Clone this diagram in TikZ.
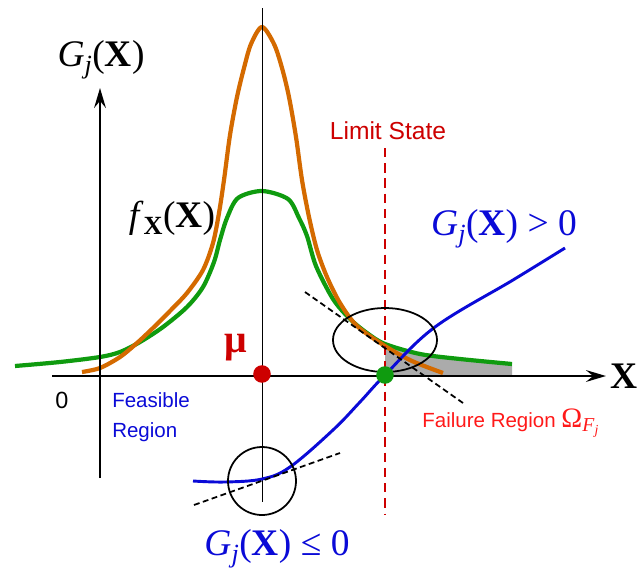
\documentclass[tikz,border=0pt]{standalone}
\usepackage{fontspec}
\setmainfont{Liberation Serif}
\setsansfont{Liberation Sans}
\usetikzlibrary{arrows.meta,positioning}

\definecolor{pdforange}{RGB}{212,106,0}
\definecolor{pdfgreen}{RGB}{15,155,15}
\definecolor{gblue}{RGB}{10,10,215}
\definecolor{limred}{RGB}{205,0,0}
\definecolor{failred}{RGB}{255,25,25}

% limit state function and density, set in the text font
\newcommand\gjx{\textit{G}\textsubscript{\textit{j}}(\textbf{X})}
\newcommand\fxx{\textit{f}\textsubscript{\textbf{X}}(\textbf{X})}

\begin{document}
\begin{tikzpicture}[
    x=0.03cm, y=-0.03cm,
    axis/.style={line width=2.4pt, -{Stealth[length=17pt,width=10pt,inset=6pt]}},
    pdfline/.style={line width=3.6pt, line join=round},
    gcurve/.style={line width=2.5pt, gblue},
    tangent/.style={line width=1.5pt, dash pattern=on 5pt off 3pt},
    dot/.style={circle, inner sep=0pt, minimum size=15pt},
    mlab/.style={font=\fontsize{32}{36}\selectfont, inner sep=0pt},
    slab/.style={font=\sffamily\fontsize{17.5}{26}\selectfont, inner sep=0pt, align=left}
]
    \useasboundingbox (0,0) rectangle (638,577);

    % axes and marks
    \coordinate (xstart) at (52,376);
    \coordinate (xtip) at (606,376);
    \coordinate (ybot) at (100,478);
    \coordinate (ytip) at (100,88);
    \coordinate (mutop) at (262,8);
    \coordinate (mubot) at (262,502);
    \coordinate (lstop) at (385,148);
    \coordinate (lsbot) at (385,515);

    % failure region under the pdf
    \fill [black!33] (385,376) -- plot[smooth, tension=0.5] coordinates {(385,345) (420,354) (460,359) (512,364)} -- (512,376) -- cycle;

    \draw [pdfline, pdfgreen] plot[smooth, tension=0.5] coordinates {(15,366) (60,362) (100,357) (120,352) (140,342) (163,327) (187,307) (203,287) (214,262) (220,240) (227,218) (238,198) (262,191) (288,199) (299,218) (307,236) (316,266) (333,299) (350,319) (367,333) (385,344) (420,354) (460,359) (512,364)};
    \draw [pdfline, pdforange] plot[smooth, tension=0.5] coordinates {(82,372) (100,368) (120,357) (137,343) (153,328) (170,311) (187,293) (203,270) (213,243) (219,213) (224,180) (230,135) (237,97) (244,68) (251,44) (262,27) (274,44) (282,68) (289,97) (296,137) (302,180) (309,217) (317,250) (327,277) (340,303) (357,326) (385,346) (412,361) (443,373)};

    \draw [line width=0.8pt] (mutop) -- (mubot);
    \draw [axis] (xstart) -- (xtip);
    \draw [axis] (ybot) -- (ytip);
    \draw [limred, line width=2.4pt, dash pattern=on 8pt off 5pt] (lstop) -- (lsbot);

    % performance function
    \draw [gcurve] plot[smooth, tension=0.6] coordinates {(193,481) (225,482) (262,479) (290,467) (333,430) (360,402) (385,375) (435,327) (513,280) (565,248)};

    % linearisation at the two points
    \draw [line width=1.5pt] (385,340) ellipse [x radius=1.56cm, y radius=0.96cm];
    \draw [line width=1.5pt] (262,481) circle [radius=1.02cm];
    \draw [tangent] (305,292) -- (463,403);
    \draw [tangent] (194,505) -- (340,453);

    \node (mu) [dot, fill=limred] at (262,374) {};
    \node (mpp) [dot, fill=pdfgreen] at (385,375) {};

    % labels
    \node (glab) [mlab] at (101,60) {\gjx};
    \node (xlab) [mlab, right=4pt of xtip] {\textbf{X}};
    \node (flab) [mlab] at (172,218) {\fxx};
    \node (gpos) [mlab, text=gblue] at (504,229) {\gjx{} > 0};
    \node (gneg) [mlab, text=gblue] at (277,549) {\gjx{} ≤ 0};
    \node (mulab) [inner sep=0pt, text=limred, font=\bfseries\fontsize{34}{36}\selectfont] at (236,348) {μ};
    \node (zero) [slab, font=\sffamily\fontsize{20}{24}\selectfont] at (62,400) {0};
    \node (lslab) [slab, text=limred, font=\sffamily\fontsize{21}{24}\selectfont] at (388,131) {Limit State};
    \node (feas) [slab, text=gblue] at (151,417) {Feasible\\Region};
    \node (fail) [slab, text=failred] at (511,423) {Failure Region {\rmfamily\fontsize{24}{24}\selectfont Ω\textsubscript{\textit{F}\textsubscript{\textit{j}}}}};
\end{tikzpicture}
\end{document}
